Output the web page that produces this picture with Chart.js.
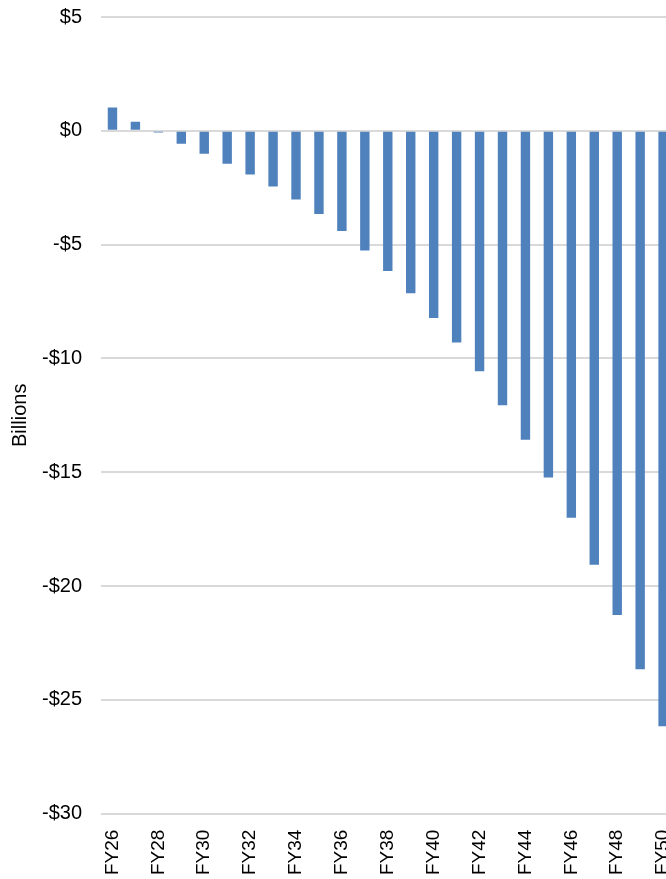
<!DOCTYPE html>
<html>
<head>
<meta charset="utf-8">
<script src="https://cdn.jsdelivr.net/npm/chart.js@4"></script>
<style>
  html, body { margin: 0; padding: 0; background: #fff; overflow: hidden; }
  #wrap { position: relative; top: -14px; width: 694px; height: 897px; }
</style>
</head>
<body>
<div id="wrap"><canvas id="grafico"></canvas></div>
<script>
// anos fiscales y saldo anual (miles de millones)
const anos = ["FY26", "FY27", "FY28", "FY29", "FY30", "FY31", "FY32", "FY33", "FY34", "FY35",
  "FY36", "FY37", "FY38", "FY39", "FY40", "FY41", "FY42", "FY43", "FY44", "FY45",
  "FY46", "FY47", "FY48", "FY49", "FY50"];
const saldo = [1.02, 0.40, -0.08, -0.57, -1.01, -1.45, -1.92, -2.45, -3.02, -3.66,
  -4.40, -5.26, -6.16, -7.14, -8.23, -9.30, -10.57, -12.06, -13.58, -15.23,
  -17.0, -19.07, -21.27, -23.66, -26.16];
const yMin = -30;
const yMax = 5;

let colorBarras = "#4f81bd";
let colorGrilla = "#d9d9d9";

Chart.defaults.font.family = "'Liberation Sans', Arial, sans-serif";
Chart.defaults.color = "#000";

let config = {
  type: "bar",
  data: {
    labels: anos,
    datasets: [
      {
        label: "Saldo",
        data: saldo,
        backgroundColor: colorBarras,
        borderWidth: 0,
        barPercentage: 0.41,
        categoryPercentage: 1,
      },
    ],
  },
  options: {
    responsive: true,
    maintainAspectRatio: false,
    animation: false,
    layout: { padding: { top: 0, right: 5, left: 0, bottom: 0 } },
    plugins: {
      legend: { display: false },
      tooltip: { enabled: false },
    },
    scales: {
      x: {
        grid: { display: false },
        border: { display: false },
        ticks: {
          autoSkip: false,
          minRotation: 90,
          maxRotation: 90,
          padding: 8,
          font: { size: 19 },
          callback: function (v, i) {
            return i % 2 == 0 ? anos[i] : "";
          },
        },
      },
      y: {
        min: yMin,
        max: yMax,
        afterFit: function (scale) {
          scale.width = 101;
        },
        grid: { color: colorGrilla, lineWidth: 2, drawTicks: false },
        border: { display: false },
        title: {
          display: true,
          text: "Billions",
          font: { size: 20 },
          padding: { top: 8, bottom: 0 },
        },
        ticks: {
          stepSize: 5,
          padding: 19,
          font: { size: 20 },
          callback: function (v) {
            return v < 0 ? "-$" + Math.abs(v) : "$" + v;
          },
        },
      },
    },
  },
};

var miGrafico = new Chart(document.getElementById("grafico"), config);
</script>
</body>
</html>
